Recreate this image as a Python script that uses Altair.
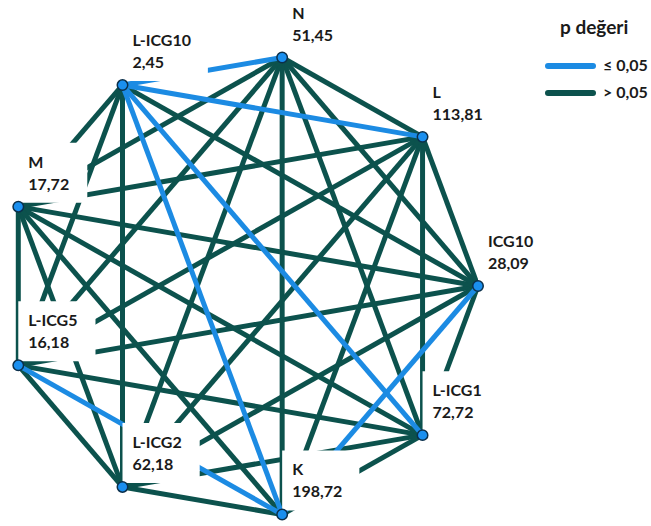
import math
import altair as alt
import pandas as pd

# ---- data ----
nodes = ["N", "L", "ICG10", "L-ICG1", "K", "L-ICG2", "L-ICG5", "M", "L-ICG10"]
node_values = [51.45, 113.81, 28.09, 72.72, 198.72, 62.18, 16.18, 17.72, 2.45]
significant_pairs = [
    ("L-ICG10", "N"),
    ("L-ICG10", "L"),
    ("L-ICG10", "K"),
    ("L-ICG10", "L-ICG1"),
    ("ICG10", "K"),
    ("L-ICG5", "K"),
]
p_categories = ["≤ 0,05", "> 0,05"]
p_colors = ["#1C8BE3", "#0C524D"]
legend_title = "p değeri"

W, H = 651, 526
FONT = "Lato"

# ---- circular layout (9-gon) ----
cx, cy, rx, ry = 241, 286, 237, 232
pos = {}
for i, n in enumerate(nodes):
    a = math.radians(80 - 40 * i)
    pos[n] = (cx + rx * math.cos(a), cy - ry * math.sin(a))

def fmt(v):
    return f"{v:.2f}".replace(".", ",")

sig = {frozenset(p) for p in significant_pairs}
edges = []
for i in range(len(nodes)):
    for j in range(i + 1, len(nodes)):
        a, b = nodes[i], nodes[j]
        cat = p_categories[0] if frozenset((a, b)) in sig else p_categories[1]
        edges.append({"x": pos[a][0], "y": pos[a][1], "x2": pos[b][0], "y2": pos[b][1],
                      "p": cat, "order": 0 if cat == p_categories[1] else 1})
edge_df = pd.DataFrame(edges).sort_values("order")

node_df = pd.DataFrame({
    "node": nodes,
    "x": [pos[n][0] for n in nodes],
    "y": [pos[n][1] for n in nodes],
    "lines": [[n, fmt(v)] for n, v in zip(nodes, node_values)],
})
# label anchor (top-left of text) and white box behind it
lab_dx, lab_top = 10, -52
node_df["tx"] = node_df["x"] + lab_dx
node_df["ty"] = node_df["y"] + lab_top
node_df["bx"] = node_df["tx"] - 10
node_df["bx2"] = node_df["tx"] + [max(len(n), len(fmt(v))) * 8.2 + 18 for n, v in zip(nodes, node_values)]
node_df["by"] = node_df["ty"] - 12
node_df["by2"] = node_df["ty"] + 48

# legend table
leg_x0, leg_x1, leg_y0, leg_step = 548, 593, 66, 27
leg_df = pd.DataFrame({
    "p": p_categories,
    "x": [leg_x0] * len(p_categories),
    "x2": [leg_x1] * len(p_categories),
    "y": [leg_y0 + k * leg_step for k in range(len(p_categories))],
})
leg_df["tx"] = leg_df["x2"] + 10

xs = alt.Scale(domain=[0, W], range=[0, W])
ys = alt.Scale(domain=[0, H], reverse=True)
X = lambda f: alt.X(f, type="quantitative", scale=xs, axis=None)
Y = lambda f: alt.Y(f, type="quantitative", scale=ys, axis=None)
col = alt.Color("p:N", scale=alt.Scale(domain=p_categories, range=p_colors), legend=None)

edges_layer = alt.Chart(edge_df).mark_rule(strokeWidth=5, strokeCap="butt").encode(
    x=X("x"), y=Y("y"), x2="x2", y2="y2", color=col, order=alt.Order("order:Q"),
)

boxes = alt.Chart(node_df).mark_rect(color="white").encode(
    x=X("bx"), x2="bx2", y=Y("by"), y2="by2"
)

points = alt.Chart(node_df).mark_circle(size=110, opacity=1, color="#1A8FEF",
                                         stroke="#0B2F4A", strokeWidth=1.5).encode(
    x=X("x"), y=Y("y")
)

labels = alt.Chart(node_df).mark_text(
    align="left", baseline="top", font=FONT, fontSize=16, fontWeight="bold",
    lineHeight=22, color="#1a1a1a"
).encode(x=X("tx"), y=Y("ty"), text="lines")

leg_lines = alt.Chart(leg_df).mark_rule(strokeWidth=6, strokeCap="round").encode(
    x=X("x"), x2="x2", y=Y("y"), color=col
)
leg_labels = alt.Chart(leg_df).mark_text(
    align="left", baseline="middle", font=FONT, fontSize=16, fontWeight="bold", color="#1a1a1a"
).encode(x=X("tx"), y=Y("y"), text="p:N")
leg_title = alt.Chart(pd.DataFrame({"t": [legend_title], "x": [560], "y": [28]})).mark_text(
    align="left", baseline="middle", font=FONT, fontSize=19, fontWeight="bold", color="#1a1a1a"
).encode(x=X("x"), y=Y("y"), text="t")

chart = alt.layer(edges_layer, boxes, points, labels, leg_lines, leg_labels, leg_title).properties(
    width=W, height=H, padding=0, autosize="none"
).configure_view(stroke=None)

chart.save("out.html", embed_options={"renderer": "svg", "actions": False})
